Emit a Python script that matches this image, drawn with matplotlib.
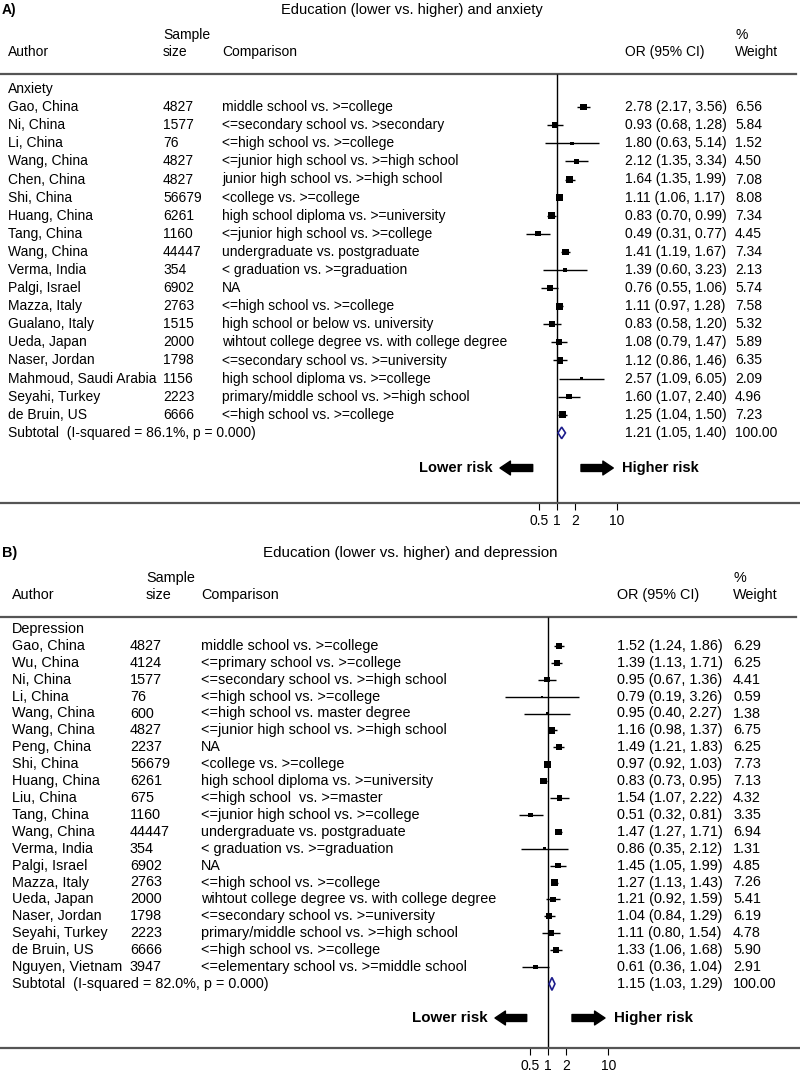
import numpy as np
import matplotlib
matplotlib.use("Agg")
import matplotlib.pyplot as plt
from matplotlib.transforms import blended_transform_factory

plt.rcParams['font.family'] = ['Liberation Sans', 'DejaVu Sans']

# ---- panel A: anxiety ----
anx_author = ["Gao, China", "Ni, China", "Li, China", "Wang, China", "Chen, China",
              "Shi, China", "Huang, China", "Tang, China", "Wang, China", "Verma, India",
              "Palgi, Israel", "Mazza, Italy", "Gualano, Italy", "Ueda, Japan",
              "Naser, Jordan", "Mahmoud, Saudi Arabia", "Seyahi, Turkey", "de Bruin, US"]
anx_size = [4827, 1577, 76, 4827, 4827, 56679, 6261, 1160, 44447, 354, 6902, 2763,
            1515, 2000, 1798, 1156, 2223, 6666]
anx_comp = ["middle school vs. >=college",
            "<=secondary school vs. >secondary",
            "<=high school vs. >=college",
            "<=junior high school vs. >=high school",
            "junior high school vs. >=high school",
            "<college vs. >=college",
            "high school diploma vs. >=university",
            "<=junior high school vs. >=college",
            "undergraduate vs. postgraduate",
            "< graduation vs. >=graduation",
            "NA",
            "<=high school vs. >=college",
            "high school or below vs. university",
            "wihtout college degree vs. with college degree",
            "<=secondary school vs. >=university",
            "high school diploma vs. >=college",
            "primary/middle school vs. >=high school",
            "<=high school vs. >=college"]
anx_or = [2.78, 0.93, 1.80, 2.12, 1.64, 1.11, 0.83, 0.49, 1.41, 1.39, 0.76, 1.11,
          0.83, 1.08, 1.12, 2.57, 1.60, 1.25]
anx_lo = [2.17, 0.68, 0.63, 1.35, 1.35, 1.06, 0.70, 0.31, 1.19, 0.60, 0.55, 0.97,
          0.58, 0.79, 0.86, 1.09, 1.07, 1.04]
anx_hi = [3.56, 1.28, 5.14, 3.34, 1.99, 1.17, 0.99, 0.77, 1.67, 3.23, 1.06, 1.28,
          1.20, 1.47, 1.46, 6.05, 2.40, 1.50]
anx_wt = [6.56, 5.84, 1.52, 4.50, 7.08, 8.08, 7.34, 4.45, 7.34, 2.13, 5.74, 7.58,
          5.32, 5.89, 6.35, 2.09, 4.96, 7.23]
anx_sub = (1.21, 1.05, 1.40, "86.1%", "0.000")

# ---- panel B: depression ----
dep_author = ["Gao, China", "Wu, China", "Ni, China", "Li, China", "Wang, China",
              "Wang, China", "Peng, China", "Shi, China", "Huang, China", "Liu, China",
              "Tang, China", "Wang, China", "Verma, India", "Palgi, Israel",
              "Mazza, Italy", "Ueda, Japan", "Naser, Jordan", "Seyahi, Turkey",
              "de Bruin, US", "Nguyen, Vietnam"]
dep_size = [4827, 4124, 1577, 76, 600, 4827, 2237, 56679, 6261, 675, 1160, 44447,
            354, 6902, 2763, 2000, 1798, 2223, 6666, 3947]
dep_comp = ["middle school vs. >=college",
            "<=primary school vs. >=college",
            "<=secondary school vs. >=high school",
            "<=high school vs. >=college",
            "<=high school vs. master degree",
            "<=junior high school vs. >=high school",
            "NA",
            "<college vs. >=college",
            "high school diploma vs. >=university",
            "<=high school  vs. >=master",
            "<=junior high school vs. >=college",
            "undergraduate vs. postgraduate",
            "< graduation vs. >=graduation",
            "NA",
            "<=high school vs. >=college",
            "wihtout college degree vs. with college degree",
            "<=secondary school vs. >=university",
            "primary/middle school vs. >=high school",
            "<=high school vs. >=college",
            "<=elementary school vs. >=middle school"]
dep_or = [1.52, 1.39, 0.95, 0.79, 0.95, 1.16, 1.49, 0.97, 0.83, 1.54, 0.51, 1.47,
          0.86, 1.45, 1.27, 1.21, 1.04, 1.11, 1.33, 0.61]
dep_lo = [1.24, 1.13, 0.67, 0.19, 0.40, 0.98, 1.21, 0.92, 0.73, 1.07, 0.32, 1.27,
          0.35, 1.05, 1.13, 0.92, 0.84, 0.80, 1.06, 0.36]
dep_hi = [1.86, 1.71, 1.36, 3.26, 2.27, 1.37, 1.83, 1.03, 0.95, 2.22, 0.81, 1.71,
          2.12, 1.99, 1.43, 1.59, 1.29, 1.54, 1.68, 1.04]
dep_wt = [6.29, 6.25, 4.41, 0.59, 1.38, 6.75, 6.25, 7.73, 7.13, 4.32, 3.35, 6.94,
          1.31, 4.85, 7.26, 5.41, 6.19, 4.78, 5.90, 2.91]
dep_sub = (1.15, 1.03, 1.29, "82.0%", "0.000")

ticks = [0.5, 1, 2, 10]
tick_labels = ["0.5", "1", "2", "10"]

W, H = 800, 1073
fig = plt.figure(figsize=(W / 100, H / 100), dpi=100)


def draw_panel(lay, letter, title, group, authors, sizes, comps, est, lo, hi, wt, sub):
    top, bot = lay["top"], lay["bot"]
    ax = fig.add_axes([0, 1 - bot / H, 1, (bot - top) / H])
    step, r0 = lay["step"], lay["row0"]

    def row(px):
        return (px - r0) / step

    ax.set_ylim(row(bot), row(top))
    ax.set_xscale("log")
    ax.set_xlim(10 ** (-lay["one"] / 60), 10 ** ((W - lay["one"]) / 60))
    for s in ["top", "left", "right"]:
        ax.spines[s].set_visible(False)
    ax.spines["bottom"].set_color("#555555")
    ax.spines["bottom"].set_linewidth(1.6)
    ax.set_yticks([])
    ax.set_xticks(ticks)
    ax.set_xticklabels(tick_labels)
    ax.minorticks_off()
    ax.tick_params(axis="x", direction="out", length=5, width=0.8, pad=3,
                   labelsize=lay["tfs"])
    bl = blended_transform_factory(ax.transAxes, ax.transData)
    fs = lay["fs"]
    cx = {k: v / W for k, v in lay["cols"].items()}

    ax.text(2 / W, row(lay["title"]), letter, transform=bl, fontsize=fs,
            fontweight="bold", va="center")
    ax.text(lay["title_x"] / W, row(lay["title"]), title, transform=bl,
            fontsize=fs + 0.5, ha="center", va="center")
    hr, sr = row(lay["head"]), row(lay["head"] - 17)
    ax.text(cx["author"], hr, "Author", transform=bl, fontsize=fs, va="center")
    ax.text(lay["sample_head"] / W, sr, "Sample", transform=bl, fontsize=fs, va="center")
    ax.text(lay["sample_head"] / W, hr, "size", transform=bl, fontsize=fs, va="center")
    ax.text(cx["comp"], hr, "Comparison", transform=bl, fontsize=fs, va="center")
    ax.text(cx["or"], hr, "OR (95% CI)", transform=bl, fontsize=fs, va="center")
    ax.text(cx["wt"], sr, "%", transform=bl, fontsize=fs, va="center")
    ax.text(cx["wt"], hr, "Weight", transform=bl, fontsize=fs, va="center")

    line_r = row(lay["line"])
    ax.plot([0, 0.995], [line_r, line_r], transform=bl, color="#555555", lw=1.6)
    ax.vlines(1, line_r, row(bot), color="black", lw=1.0)

    ax.text(cx["author"], 0, group, transform=bl, fontsize=fs, va="center")
    n = len(authors)
    rows = np.arange(1, n + 1)
    for i in range(n):
        r = rows[i]
        ax.text(cx["author"], r, authors[i], transform=bl, fontsize=fs, va="center")
        ax.text(cx["size"], r, str(sizes[i]), transform=bl, fontsize=fs, va="center")
        ax.text(cx["comp"], r, comps[i], transform=bl, fontsize=fs, va="center")
        ax.text(cx["or"], r, f"{est[i]:.2f} ({lo[i]:.2f}, {hi[i]:.2f})",
                transform=bl, fontsize=fs, va="center")
        ax.text(cx["wt"], r, f"{wt[i]:.2f}", transform=bl, fontsize=fs, va="center")
    ax.hlines(rows, lo, hi, color="black", lw=1.0, zorder=2)
    ax.scatter(est, rows, marker="s", s=np.array(wt) * 3.2, color="black",
               linewidths=0, zorder=3)

    # subtotal diamond
    se, sl, sh, i2, p = sub
    rs = n + 1
    dh = lay["dia"]
    ax.fill([sl, se, sh, se], [rs, rs - dh, rs, rs + dh], facecolor="white",
            edgecolor="#1c1c8c", lw=1.2, zorder=3)
    ax.text(cx["author"], rs, f"Subtotal  (I-squared = {i2}, p = {p})",
            transform=bl, fontsize=fs, va="center")
    ax.text(cx["or"], rs, f"{se:.2f} ({sl:.2f}, {sh:.2f})", transform=bl,
            fontsize=fs, va="center")
    ax.text(cx["wt"], rs, "100.00", transform=bl, fontsize=fs, va="center")

    # direction arrows
    ar = row(lay["arrow"])
    a = lay["arr"]
    aprops = dict(arrowstyle="simple,head_length=0.75,head_width=1.0,tail_width=0.5",
                  color="black", shrinkA=0, shrinkB=0, mutation_scale=10)
    ax.annotate("", xy=(a[0] / W, ar), xytext=(a[1] / W, ar), xycoords=bl,
                textcoords=bl, arrowprops=aprops)
    ax.annotate("", xy=(a[3] / W, ar), xytext=(a[2] / W, ar), xycoords=bl,
                textcoords=bl, arrowprops=aprops)
    ax.text((a[0] - 7) / W, ar, "Lower risk", transform=bl, fontsize=lay["afs"],
            fontweight="bold", ha="right", va="center")
    ax.text((a[3] + 9) / W, ar, "Higher risk", transform=bl, fontsize=lay["afs"],
            fontweight="bold", ha="left", va="center")
    return ax


lay_a = dict(top=0, bot=503, step=18.1, row0=89, one=556.7, fs=10.0, tfs=10, afs=10.5,
             dia=0.32, title=10, title_x=412, head=52, sample_head=163,
             line=74, arrow=468, arr=(500, 532.7, 581, 613.3),
             cols=dict(author=8, size=163, comp=222, **{"or": 625}, wt=735))
lay_b = dict(top=536, bot=1048, step=16.9, row0=629, one=548.3, fs=10.4, tfs=10, afs=10.9,
             dia=0.38, title=553, title_x=410, head=595, sample_head=146,
             line=617, arrow=1018, arr=(495, 526.7, 572, 605),
             cols=dict(author=12, size=130, comp=201, **{"or": 617}, wt=733))

draw_panel(lay_a, "A)", "Education (lower vs. higher) and anxiety", "Anxiety",
           anx_author, anx_size, anx_comp, anx_or, anx_lo, anx_hi, anx_wt, anx_sub)
draw_panel(lay_b, "B)", "Education (lower vs. higher) and depression", "Depression",
           dep_author, dep_size, dep_comp, dep_or, dep_lo, dep_hi, dep_wt, dep_sub)

fig.savefig("out.png", dpi=100)
